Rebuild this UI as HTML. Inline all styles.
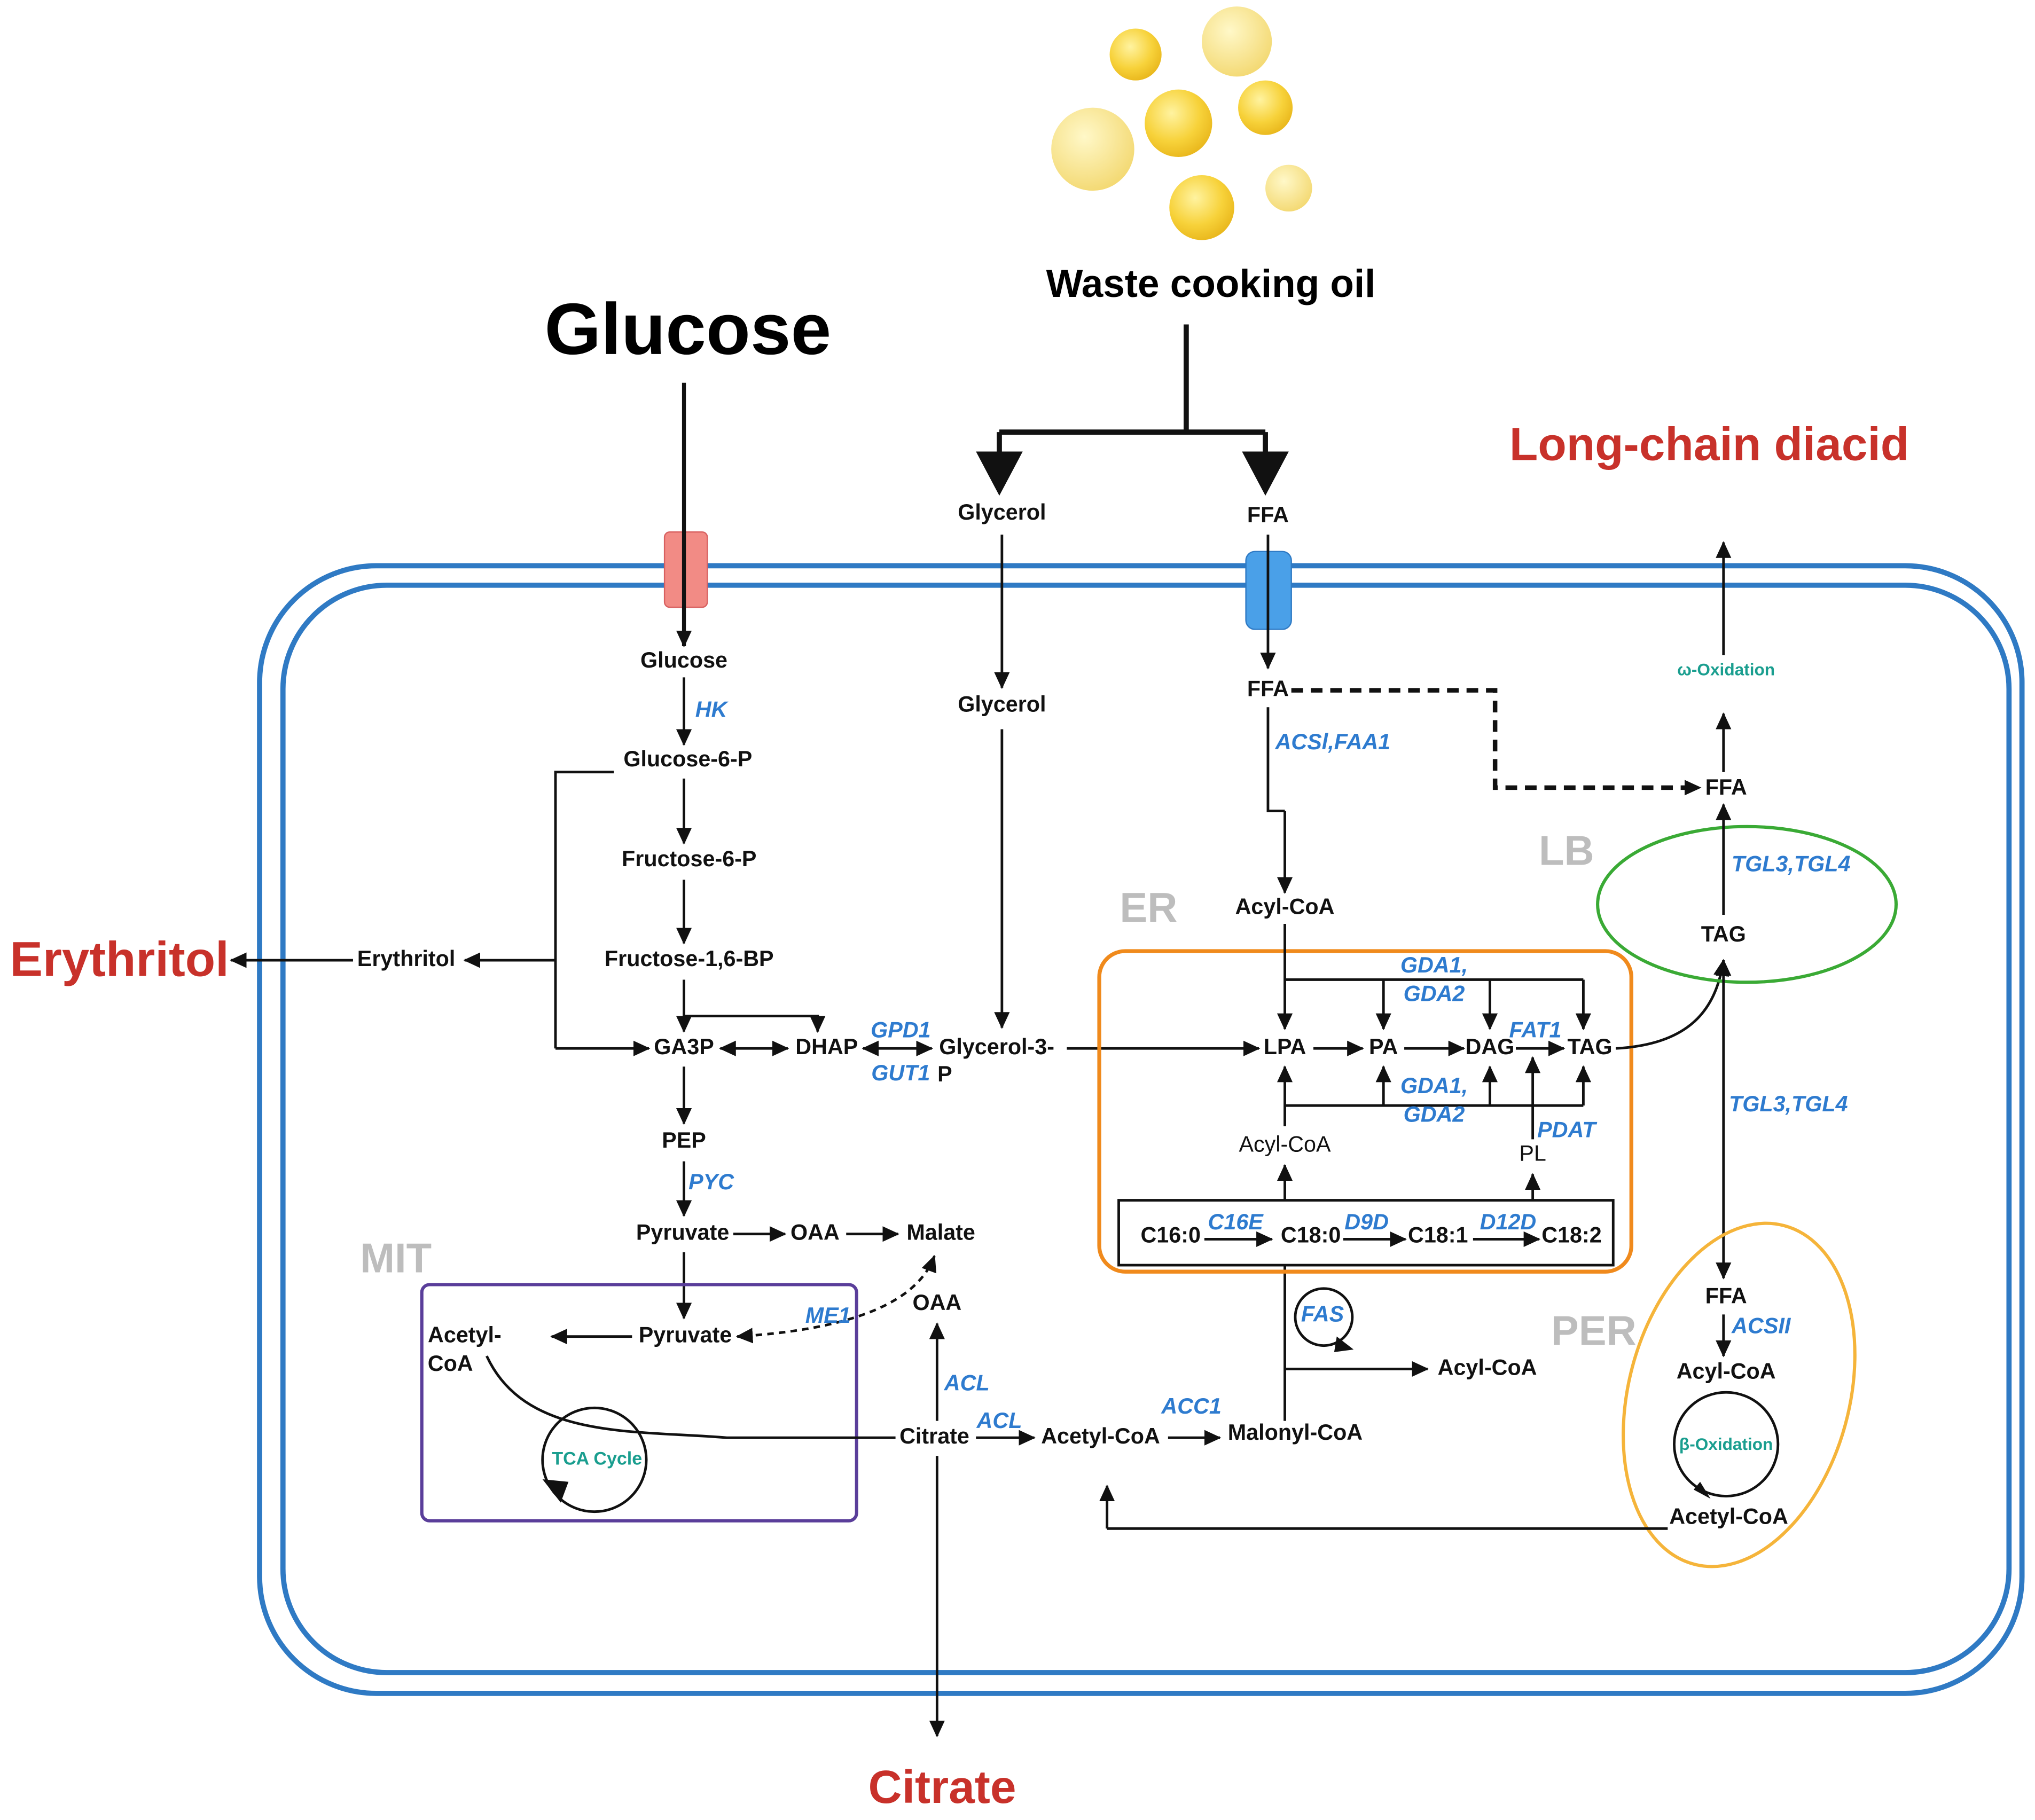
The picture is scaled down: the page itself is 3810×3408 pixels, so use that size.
<!DOCTYPE html>
<html><head><meta charset="utf-8"><style>
html,body{margin:0;padding:0;background:#fff;}
svg{display:block}
text{font-family:"Liberation Sans",sans-serif;}
.n{font-size:17px;font-weight:bold;fill:#111;text-anchor:middle;dominant-baseline:middle}
.nn{font-size:17px;fill:#111;text-anchor:middle;dominant-baseline:middle}
.e{font-size:17px;font-weight:bold;font-style:italic;fill:#2e7bcf;text-anchor:middle;dominant-baseline:middle}
.t{font-size:14px;font-weight:bold;fill:#1a9e8f;text-anchor:middle;dominant-baseline:middle}
.g{font-size:32px;font-weight:bold;fill:#bdbdbd;text-anchor:middle;dominant-baseline:middle}
.r{font-size:36px;font-weight:bold;fill:#c8312a;text-anchor:middle;dominant-baseline:middle}
.l{stroke:#111;stroke-width:2;fill:none}
.a{stroke:#111;stroke-width:2;fill:none;marker-end:url(#ah)}
</style></head><body>
<svg width="3810" height="3408" viewBox="0 0 1568 1402.6" xmlns="http://www.w3.org/2000/svg">
<defs>
<marker id="ah" markerUnits="userSpaceOnUse" markerWidth="14" markerHeight="12" refX="12" refY="6" orient="auto"><path d="M0,0 L13,6 L0,12 Z" fill="#111"/></marker>
<marker id="as" markerUnits="userSpaceOnUse" markerWidth="14" markerHeight="12" refX="1" refY="6" orient="auto"><path d="M13,0 L0,6 L13,12 Z" fill="#111"/></marker>
<radialGradient id="oil" cx="0.4" cy="0.35" r="0.7"><stop offset="0" stop-color="#fff3a0"/><stop offset="0.6" stop-color="#f7d23a"/><stop offset="1" stop-color="#e8b51a"/></radialGradient>
<radialGradient id="oil2" cx="0.4" cy="0.35" r="0.7"><stop offset="0" stop-color="#fff8c8"/><stop offset="1" stop-color="#f3d870"/></radialGradient>
</defs>
<rect x="200" y="436" width="1358" height="869" rx="90" fill="none" stroke="#2f7ac4" stroke-width="4"/>
<rect x="218" y="451" width="1330" height="838" rx="80" fill="none" stroke="#2f7ac4" stroke-width="4"/>
<circle cx="875" cy="42" r="20" fill="url(#oil)"/>
<circle cx="953" cy="32" r="27" fill="url(#oil2)"/>
<circle cx="975" cy="83" r="21" fill="url(#oil)"/>
<circle cx="908" cy="95" r="26" fill="url(#oil)"/>
<circle cx="842" cy="115" r="32" fill="url(#oil2)"/>
<circle cx="993" cy="145" r="18" fill="url(#oil2)"/>
<circle cx="926" cy="160" r="25" fill="url(#oil)"/>
<text x="933" y="221" style="font-size:30px;font-weight:bold;text-anchor:middle;dominant-baseline:middle">Waste cooking oil</text>
<path d="M914,250 V333 M770,333 H975 M770,333 V352 M975,333 V352" stroke="#111" stroke-width="4" fill="none"/>
<path d="M752,348 L788,348 L770,382 Z M957,348 L993,348 L975,382 Z" fill="#111"/>
<text x="530" y="258" style="font-size:56px;font-weight:bold;text-anchor:middle;dominant-baseline:middle">Glucose</text>
<text class="r" x="1317" y="345">Long-chain diacid</text>
<text class="r" x="92" y="742" style="font-size:38px">Erythritol</text>
<text class="r" x="726" y="1380">Citrate</text>
<rect x="512" y="410" width="33" height="58" rx="4" fill="#f28b85" stroke="#d86060"/>
<line x1="528" y1="410" x2="528" y2="468" stroke="#d86060"/>
<rect x="960" y="425" width="35" height="60" rx="7" fill="#4aa0e8" stroke="#2f7ac4"/>
<line x1="977" y1="425" x2="977" y2="485" stroke="#2f7ac4"/>
<path d="M527,295 V498" stroke="#111" stroke-width="3" marker-end="url(#ah)"/>
<path class="a" d="M977,412 V515"/>
<text class="n" x="772" y="396">Glycerol</text>
<text class="n" x="977" y="398">FFA</text>
<text class="n" x="527" y="510">Glucose</text>
<text class="e" x="548" y="548">HK</text>
<path class="a" d="M527,522 V574"/>
<text class="n" x="530" y="586">Glucose-6-P</text>
<path class="a" d="M527,600 V650"/>
<text class="n" x="531" y="663">Fructose-6-P</text>
<path class="a" d="M527,678 V727"/>
<text class="n" x="531" y="740">Fructose-1,6-BP</text>
<path class="a" d="M527,755 V795"/>
<path class="a" d="M527,783 H630 V795"/>
<text class="n" x="527" y="808">GA3P</text>
<text class="n" x="637" y="808">DHAP</text>
<path class="a" d="M555,808 H607" marker-start="url(#as)"/>
<path class="l" d="M473,595 H428 V808"/>
<path class="a" d="M428,808 H500"/>
<path class="a" d="M428,740 H358"/>
<text class="n" x="313" y="740">Erythritol</text>
<path class="a" d="M272,740 H178"/>
<path class="a" d="M665,808 H718" marker-start="url(#as)"/>
<text class="e" x="694" y="795">GPD1</text>
<text class="e" x="694" y="828">GUT1</text>
<text class="n" x="768" y="808">Glycerol-3-</text>
<text class="n" x="728" y="829">P</text>
<path class="a" d="M772,412 V530"/>
<text class="n" x="772" y="544">Glycerol</text>
<path class="a" d="M772,562 V792"/>
<path class="a" d="M822,808 H970"/>
<path class="a" d="M527,822 V866"/>
<text class="n" x="527" y="880">PEP</text>
<path class="a" d="M527,895 V937"/>
<text class="e" x="548" y="912">PYC</text>
<text class="n" x="526" y="951">Pyruvate</text>
<path class="a" d="M565,951 H605"/>
<text class="n" x="628" y="951">OAA</text>
<path class="a" d="M652,951 H692"/>
<text class="n" x="725" y="951">Malate</text>
<path class="a" d="M527,965 V1016"/>
<rect x="325" y="990" width="335" height="182" rx="6" fill="none" stroke="#5a3e9a" stroke-width="2.5"/>
<text class="g" x="305" y="972">MIT</text>
<text class="n" x="528" y="1030">Pyruvate</text>
<path class="a" d="M487,1030 H425"/>
<text class="n" x="358" y="1030">Acetyl-</text>
<text class="n" x="347" y="1052">CoA</text>
<path d="M720,968 Q700,1022 568,1030" stroke="#111" stroke-width="2" stroke-dasharray="5,4" fill="none" marker-start="url(#as)" marker-end="url(#ah)"/>
<text class="e" x="638" y="1015">ME1</text>
<text class="n" x="722" y="1005">OAA</text>
<path class="a" d="M722,1095 V1020"/>
<text class="e" x="745" y="1067">ACL</text>
<path class="l" d="M375,1045 C405,1110 490,1102 560,1108 H690"/>
<text class="n" x="720" y="1108">Citrate</text>
<path class="a" d="M722,1122 V1338"/>
<circle cx="458" cy="1125" r="40" fill="none" stroke="#111" stroke-width="2"/>
<path d="M418,1140 L432,1158 L438,1142 Z" fill="#111"/>
<text class="t" x="460" y="1125">TCA Cycle</text>
<path class="a" d="M752,1108 H797"/>
<text class="e" x="770" y="1096">ACL</text>
<text class="n" x="848" y="1108">Acetyl-CoA</text>
<path class="a" d="M900,1108 H940"/>
<text class="e" x="918" y="1085">ACC1</text>
<text class="n" x="998" y="1105">Malonyl-CoA</text>
<path class="l" d="M990,975 V1095"/>
<circle cx="1020" cy="1015" r="22" fill="none" stroke="#111" stroke-width="2"/>
<path d="M1030,1030 L1043,1040 L1028,1042 Z" fill="#111"/>
<text class="e" x="1019" y="1014">FAS</text>
<path class="a" d="M990,1055 H1100"/>
<text class="n" x="1146" y="1055">Acyl-CoA</text>
<rect x="847" y="733" width="410" height="247" rx="20" fill="none" stroke="#f08a1c" stroke-width="3"/>
<text class="g" x="885" y="702">ER</text>
<text class="n" x="977" y="532">FFA</text>
<path d="M995,532 H1152 V607 H1310" stroke="#111" stroke-width="3.5" stroke-dasharray="9,6" fill="none" marker-end="url(#ah)"/>
<path class="l" d="M977,545 V625 H990"/>
<path class="a" d="M990,625 V688"/>
<text class="e" x="1027" y="573">ACSl,FAA1</text>
<text class="n" x="990" y="700">Acyl-CoA</text>
<path class="a" d="M990,712 V793"/>
<path class="l" d="M990,755 H1220"/>
<path class="a" d="M1066,755 V793"/><path class="a" d="M1148,755 V793"/><path class="a" d="M1220,755 V793"/>
<text class="e" x="1105" y="745">GDA1,</text>
<text class="e" x="1105" y="767">GDA2</text>
<text class="n" x="990" y="808">LPA</text>
<text class="n" x="1066" y="808">PA</text>
<text class="n" x="1148" y="808">DAG</text>
<text class="n" x="1225" y="808">TAG</text>
<path class="a" d="M1012,808 H1050"/><path class="a" d="M1082,808 H1128"/><path class="a" d="M1168,808 H1205"/>
<text class="e" x="1183" y="795">FAT1</text>
<path class="l" d="M990,852 H1220"/>
<path class="a" d="M1066,852 V822"/><path class="a" d="M1148,852 V822"/><path class="a" d="M1220,852 V822"/>
<text class="e" x="1105" y="838">GDA1,</text>
<text class="e" x="1105" y="860">GDA2</text>
<text class="nn" x="990" y="883">Acyl-CoA</text>
<path class="a" d="M990,868 V822"/>
<path class="a" d="M990,925 V898"/>
<text class="nn" x="1181" y="890">PL</text>
<path class="a" d="M1181,878 V815"/>
<text class="e" x="1207" y="872">PDAT</text>
<path class="a" d="M1181,925 V905"/>
<rect x="862" y="925" width="381" height="50" fill="none" stroke="#111" stroke-width="2"/>
<text class="n" x="902" y="953">C16:0</text>
<text class="e" x="952" y="943">C16E</text>
<path class="a" d="M928,955 H980"/>
<text class="n" x="1010" y="953">C18:0</text>
<text class="e" x="1053" y="943">D9D</text>
<path class="a" d="M1035,955 H1083"/>
<text class="n" x="1108" y="953">C18:1</text>
<text class="e" x="1162" y="943">D12D</text>
<path class="a" d="M1135,955 H1186"/>
<text class="n" x="1211" y="953">C18:2</text>
<path class="a" d="M1245,808 C1300,805 1322,780 1328,740"/>
<ellipse cx="1346" cy="697" rx="115" ry="60" fill="none" stroke="#3aaa35" stroke-width="2.5"/>
<text class="g" x="1207" y="658">LB</text>
<text class="n" x="1328" y="721">TAG</text>
<text class="e" x="1380" y="667">TGL3,TGL4</text>
<path class="a" d="M1328,705 V620"/>
<text class="n" x="1330" y="608">FFA</text>
<path class="a" d="M1328,595 V550"/>
<text class="t" x="1330" y="517" style="font-size:13px">ω-Oxidation</text>
<path class="a" d="M1328,505 V418"/>
<path class="a" d="M1328,985 V740" marker-start="url(#as)"/>
<text class="e" x="1378" y="852">TGL3,TGL4</text>
<ellipse cx="1340" cy="1075" rx="85" ry="135" transform="rotate(15 1340 1075)" fill="none" stroke="#f5b43a" stroke-width="2.5"/>
<text class="g" x="1228" y="1028">PER</text>
<text class="n" x="1330" y="1000">FFA</text>
<path class="a" d="M1328,1013 V1045"/>
<text class="e" x="1357" y="1023">ACSII</text>
<text class="n" x="1330" y="1058">Acyl-CoA</text>
<circle cx="1330" cy="1113" r="40" fill="none" stroke="#111" stroke-width="2"/>
<path d="M1305,1148 L1318,1155 L1310,1142 Z" fill="#111"/>
<text class="t" x="1330" y="1114" style="font-size:13px">β-Oxidation</text>
<text class="n" x="1332" y="1170">Acetyl-CoA</text>
<path class="l" d="M1285,1178 H853"/>
<path class="a" d="M853,1178 V1145"/>
</svg>
</body></html>
